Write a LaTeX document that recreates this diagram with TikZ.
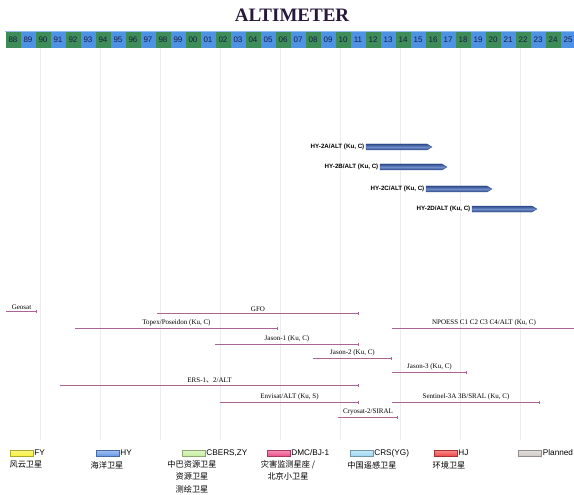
\documentclass[tikz,border=0pt]{standalone}
\usepackage{fontspec}
\setmainfont{Liberation Serif}
\newfontfamily\labelsans{Liberation Sans}
\newfontfamily\cjk{Noto Sans CJK SC}
\usetikzlibrary{arrows.meta}

\definecolor{yrcol0}{RGB}{62,140,88}
\definecolor{yrcol1}{RGB}{78,146,228}
\definecolor{yrtext}{RGB}{22,28,70}
\definecolor{titlecol}{RGB}{40,24,58}
\definecolor{hydark}{RGB}{46,76,140}
\definecolor{hylight}{RGB}{112,140,200}
\definecolor{misscol}{RGB}{170,100,150}
\definecolor{fycol}{RGB}{246,240,60}
\definecolor{hycol}{RGB}{104,152,232}
\definecolor{cbcol}{RGB}{200,238,160}
\definecolor{dmccol}{RGB}{238,80,138}
\definecolor{crscol}{RGB}{160,216,242}
\definecolor{hjcol}{RGB}{240,72,72}
\definecolor{plancol}{RGB}{208,202,198}

\tikzset{
  yrcell/.style={minimum width=15pt, minimum height=16pt, inner sep=0pt,
    text=yrtext, font=\labelsans\fontsize{8}{8}\selectfont},
  hylabel/.style={anchor=east, inner sep=1.5pt,
    font=\labelsans\bfseries\fontsize{6.2}{7}\selectfont},
  hybar/.style={draw=hydark, line width=0.3pt, top color=hydark,
    bottom color=hydark, middle color=hylight},
  mission/.style={draw=misscol, line width=0.9pt, -{Bar[width=3pt,line width=0.6pt]}},
  misslabel/.style={above=0.3pt, inner sep=1pt, text=black,
    font=\fontsize{7}{7}\selectfont},
  legbox/.style={minimum width=23pt, minimum height=6pt, inner sep=0pt,
    draw=#1!70!black, line width=0.4pt, top color=#1!60, bottom color=#1},
  legtext/.style={anchor=west, inner sep=1pt,
    font=\labelsans\fontsize{8.2}{9}\selectfont},
  legcjk/.style={align=center, inner sep=0pt,
    font=\cjk\fontsize{8.2}{12.5}\selectfont}
}

\begin{document}
\begin{tikzpicture}[x=1pt,y=-1pt]
  \useasboundingbox (0,0) rectangle (574,495);

  % grid
  \foreach \gx in {40,100,...,520}
    \draw [black!7, line width=0.4pt] (\gx,48) -- (\gx,440);

  % title
  \node [font=\bfseries\fontsize{19}{19}\selectfont, text=titlecol] (title)
    at (292,15) {ALTIMETER};

  % year bar
  \foreach \yr [count=\i from 0] in {88,89,90,91,92,93,94,95,96,97,98,99,
      00,01,02,03,04,05,06,07,08,09,10,11,12,13,14,15,16,17,18,19,20,21,22,23,24,25} {
    \pgfmathtruncatemacro\c{mod(\i,2)}
    \node [yrcell, fill=yrcol\c] (y\yr) at ({13+15*\i},40) {\yr};
  }
  \draw [yrcol1!60, line width=0.8pt] (y88.north west) -- (y25.north east);

  % HY-2 series
  \foreach \nm/\xa/\xb/\yy in {A/366/432/147, B/380/447/167, C/426/492/189, D/472/537/209} {
    \coordinate (hy\nm-s) at (\xa,\yy);
    \coordinate (hy\nm-e) at (\xb,\yy);
    \node [hylabel] (hy\nm) at (hy\nm-s) {HY-2\nm/ALT (Ku, C)};
    \path [hybar] ([yshift=-3pt]hy\nm-s) -- ([xshift=-5pt,yshift=-3pt]hy\nm-e)
      -- (hy\nm-e) -- ([xshift=-5pt,yshift=3pt]hy\nm-e)
      -- ([yshift=3pt]hy\nm-s) -- cycle;
  }

  % foreign missions
  \coordinate (geosat-s) at (6,311);   \coordinate (geosat-e) at (37,311);
  \coordinate (gfo-s) at (157,313);    \coordinate (gfo-e) at (359,313);
  \coordinate (topex-s) at (75,328);   \coordinate (topex-e) at (278,328);
  \coordinate (npoess-s) at (392,328); \coordinate (npoess-e) at (576,328);
  \coordinate (jason1-s) at (215,344); \coordinate (jason1-e) at (359,344);
  \coordinate (jason2-s) at (313,358); \coordinate (jason2-e) at (392,358);
  \coordinate (jason3-s) at (392,372); \coordinate (jason3-e) at (467,372);
  \coordinate (ers-s) at (60,385);     \coordinate (ers-e) at (359,385);
  \coordinate (envisat-s) at (220,402);\coordinate (envisat-e) at (359,402);
  \coordinate (sentinel-s) at (392,402);\coordinate (sentinel-e) at (540,402);
  \coordinate (cryosat-s) at (338,417);\coordinate (cryosat-e) at (398,417);

  \draw [mission] (geosat-s) -- (geosat-e) node [misslabel, midway] (geosat) {Geosat};
  \draw [mission] (gfo-s) -- (gfo-e) node [misslabel, midway] (gfo) {GFO};
  \draw [mission] (topex-s) -- (topex-e) node [misslabel, midway] (topex) {Topex/Poseidon (Ku, C)};
  \draw [mission] (npoess-s) -- (npoess-e) node [misslabel, midway] (npoess) {NPOESS C1 C2 C3 C4/ALT (Ku, C)};
  \draw [mission] (jason1-s) -- (jason1-e) node [misslabel, midway] (jason1) {Jason-1 (Ku, C)};
  \draw [mission] (jason2-s) -- (jason2-e) node [misslabel, midway] (jason2) {Jason-2 (Ku, C)};
  \draw [mission] (jason3-s) -- (jason3-e) node [misslabel, midway] (jason3) {Jason-3 (Ku, C)};
  \draw [mission] (ers-s) -- (ers-e) node [misslabel, midway] (ers) {ERS-1{\cjk 、}2/ALT};
  \draw [mission] (envisat-s) -- (envisat-e) node [misslabel, midway] (envisat) {Envisat/ALT (Ku, S)};
  \draw [mission] (sentinel-s) -- (sentinel-e) node [misslabel, midway] (sentinel) {Sentinel-3A 3B/SRAL (Ku, C)};
  \draw [mission] (cryosat-s) -- (cryosat-e) node [misslabel, midway] (cryosat) {Cryosat-2/SIRAL};

  % legend
  \node [legbox=fycol] (fybox) at (21.5,453) {};
  \node [legtext] (fytxt) at (fybox.east) {FY};
  \node [legcjk] (fycn) at (26,465) {风云卫星};

  \node [legbox=hycol] (hybox) at (107.5,453) {};
  \node [legtext] (hytxt) at (hybox.east) {HY};
  \node [legcjk] (hycn) at (107,465) {海洋卫星};

  \node [legbox=cbcol] (cbbox) at (193.5,453) {};
  \node [legtext] (cbtxt) at (cbbox.east) {CBERS,ZY};
  \node [legcjk, anchor=north] (cbcn) at (192,460) {中巴资源卫星\\资源卫星\\测绘卫星};

  \node [legbox=dmccol] (dmcbox) at (278.5,453) {};
  \node [legtext] (dmctxt) at (dmcbox.east) {DMC/BJ-1};
  \node [legcjk, anchor=north] (dmccn) at (288,460) {灾害监测星座 /\\北京小卫星};

  \node [legbox=crscol] (crsbox) at (361.5,453) {};
  \node [legtext] (crstxt) at (crsbox.east) {CRS(YG)};
  \node [legcjk] (crscn) at (372,465) {中国遥感卫星};

  \node [legbox=hjcol] (hjbox) at (445.5,453) {};
  \node [legtext] (hjtxt) at (hjbox.east) {HJ};
  \node [legcjk] (hjcn) at (449,465) {环境卫星};

  \node [legbox=plancol] (planbox) at (530,453) {};
  \node [legtext] (plantxt) at (planbox.east) {Planned};
\end{tikzpicture}
\end{document}
